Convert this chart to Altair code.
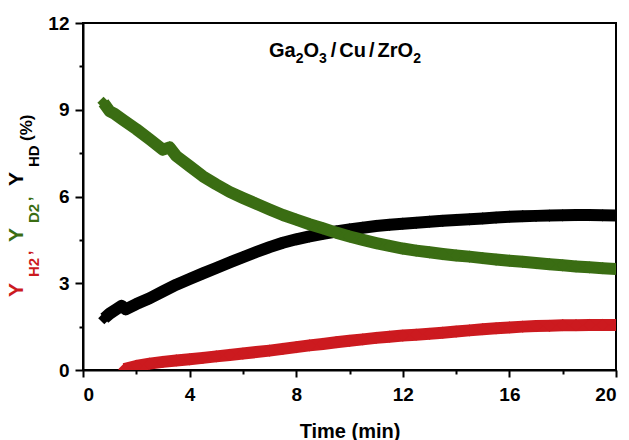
import altair as alt
import pandas as pd

# ---- data ----
t_hd = [0.8, 1.0, 1.25, 1.45, 1.6, 2.0, 2.5, 3.0, 3.5, 4.0, 4.5, 5.0, 5.5, 6.0, 6.5, 7.0, 7.5, 8.0,
        8.5, 9.0, 9.5, 10.0, 10.5, 11.0, 11.5, 12.0, 12.5, 13.0, 13.5, 14.0, 14.5, 15.0, 15.5, 16.0,
        16.5, 17.0, 17.5, 18.0, 18.5, 19.0, 19.5, 20.0]
v_hd = [1.79, 1.95, 2.1, 2.22, 2.1, 2.28, 2.48, 2.72, 2.95, 3.15, 3.34, 3.53, 3.72, 3.9, 4.08, 4.25,
        4.4, 4.52, 4.62, 4.71, 4.79, 4.86, 4.92, 4.98, 5.02, 5.06, 5.09, 5.13, 5.16, 5.19, 5.21,
        5.24, 5.27, 5.3, 5.32, 5.33, 5.34, 5.35, 5.36, 5.36, 5.35, 5.34]

t_d2 = [0.77, 1.0, 1.2, 1.5, 2.0, 2.5, 3.0, 3.25, 3.5, 4.0, 4.5, 5.0, 5.5, 6.0, 6.5, 7.0, 7.5, 8.0,
        8.5, 9.0, 9.5, 10.0, 10.5, 11.0, 11.5, 12.0, 12.5, 13.0, 13.5, 14.0, 14.5, 15.0, 15.5, 16.0,
        16.5, 17.0, 17.5, 18.0, 18.5, 19.0, 19.5, 20.0]
v_d2 = [9.24, 8.95, 8.85, 8.65, 8.33, 7.98, 7.62, 7.7, 7.4, 7.05, 6.7, 6.42, 6.16, 5.95, 5.75,
        5.55, 5.36, 5.2, 5.04, 4.9, 4.75, 4.62, 4.5, 4.39, 4.29, 4.2, 4.13, 4.07, 4.01, 3.96, 3.92,
        3.87, 3.82, 3.78, 3.74, 3.7, 3.66, 3.62, 3.58, 3.55, 3.52, 3.49]

t_h2 = [1.55, 2.0, 2.5, 3.0, 3.5, 4.0, 4.5, 5.0, 5.5, 6.0, 6.5, 7.0, 7.5, 8.0, 8.5, 9.0, 9.5, 10.0,
        10.5, 11.0, 11.5, 12.0, 12.5, 13.0, 13.5, 14.0, 14.5, 15.0, 15.5, 16.0, 16.5, 17.0, 17.5,
        18.0, 18.5, 19.0, 19.5, 20.0]
v_h2 = [0.03, 0.14, 0.22, 0.28, 0.33, 0.37, 0.42, 0.47, 0.52, 0.57, 0.62, 0.67, 0.73, 0.79, 0.85,
        0.9, 0.96, 1.01, 1.06, 1.11, 1.15, 1.19, 1.22, 1.25, 1.29, 1.33, 1.37, 1.41, 1.44, 1.47,
        1.5, 1.52, 1.53, 1.55, 1.55, 1.56, 1.56, 1.56]

x_ticks = [0, 2, 4, 6, 8, 10, 12, 14, 16, 18, 20]
y_ticks = [0, 1.5, 3, 4.5, 6, 7.5, 9, 10.5, 12]

RED = "#CC1A1F"
GREEN = "#3A6D13"
BLACK = "#000000"
FONT = "Liberation Sans"

W, H = 533, 347

x_enc = alt.X("t:Q", scale=alt.Scale(domain=[0, 20], nice=False, zero=False),
              axis=alt.Axis(values=x_ticks, title="Time (min)",
                            labelExpr="datum.value % 4 === 0 ? datum.label : ''",
                            tickSize={"condition": {"test": "datum.value % 4 === 0", "value": 7}, "value": 4},
                            labelPadding=8, titlePadding=17))
y_enc = alt.Y("v:Q", scale=alt.Scale(domain=[0, 12], nice=False),
              axis=alt.Axis(values=y_ticks, title=None,
                            labelExpr="datum.value % 3 === 0 ? datum.label : ''",
                            tickSize={"condition": {"test": "datum.value % 3 === 0", "value": 8}, "value": 4},
                            labelPadding=6))


def series(t, v, color):
    df = pd.DataFrame({"t": t, "v": v})
    base = alt.Chart(df).encode(x=x_enc, y=y_enc)
    line = base.mark_line(color=color, strokeWidth=12, strokeJoin="round", strokeCap="butt", clip=True)
    pts = base.mark_point(shape="diamond", filled=True, size=150, color=color, opacity=1, clip=True)
    return line + pts


def txt(s, x, y, size, color=BLACK, angle=0, align="left", baseline="alphabetic"):
    return alt.Chart(pd.DataFrame({"s": [s]})).mark_text(
        font=FONT, fontWeight="bold", fontSize=size, color=color, angle=angle,
        align=align, baseline=baseline
    ).encode(x=alt.value(x), y=alt.value(y), text="s:N")


# annotation: Ga2O3 / Cu / ZrO2 (chart origin at image (83,23))
ox, oy = 83, 23
F, f = 20, 14
base_y = 57 - oy
sub_y = 63 - oy
x0 = 269 - ox
pieces = []
cx = x0
for s, sub in [("Ga", False), ("2", True), ("O", False), ("3", True)]:
    pieces.append(txt(s, cx, sub_y if sub else base_y, f if sub else F))
    cx += (0.556 * f) if sub else ({"Ga": 1.334, "O": 0.778}[s] * F)
cx += 4
pieces.append(txt("/", cx, base_y, F)); cx += 0.278 * F + 3
pieces.append(txt("Cu", cx, base_y, F)); cx += 1.333 * F + 3
pieces.append(txt("/", cx, base_y, F)); cx += 0.278 * F + 3
pieces.append(txt("ZrO", cx, base_y, F)); cx += 1.778 * F
pieces.append(txt("2", cx, sub_y, f))

# rotated y-axis title (reads bottom to top)
ytitle = [
    txt("Y", 23 - ox, 297 - oy, 21, RED, angle=270),
    txt("H2", 39 - ox, 277 - oy, 15, RED, angle=270),
    txt(",", 31 - ox, 255 - oy, 15, RED, angle=270),
    txt("Y", 23 - ox, 242 - oy, 21, GREEN, angle=270),
    txt("D2", 39 - ox, 223 - oy, 15, GREEN, angle=270),
    txt(",", 31 - ox, 201 - oy, 15, GREEN, angle=270),
    txt("Y", 23 - ox, 186 - oy, 21, BLACK, angle=270),
    txt("HD", 39 - ox, 167 - oy, 15, BLACK, angle=270),
    txt("(%)", 32 - ox, 141 - oy, 17, BLACK, angle=270),
]

chart = alt.layer(
    series(t_h2, v_h2, RED),
    series(t_hd, v_hd, BLACK),
    series(t_d2, v_d2, GREEN),
    *pieces,
    *ytitle,
).properties(
    width=W, height=H,
    autosize=alt.AutoSizeParams(type="none"),
    padding={"left": ox, "top": oy, "right": 12, "bottom": 70},
).configure_view(
    stroke=BLACK, strokeWidth=2
).configure_axis(
    grid=False, domainColor=BLACK, domainWidth=2, tickColor=BLACK, tickWidth=2,
    labelFont=FONT, labelFontWeight="bold", labelFontSize=19, labelColor=BLACK,
    titleFont=FONT, titleFontWeight="bold", titleFontSize=20, titleColor=BLACK,
)

chart.save("out.html", embed_options={"renderer": "svg", "actions": False})
